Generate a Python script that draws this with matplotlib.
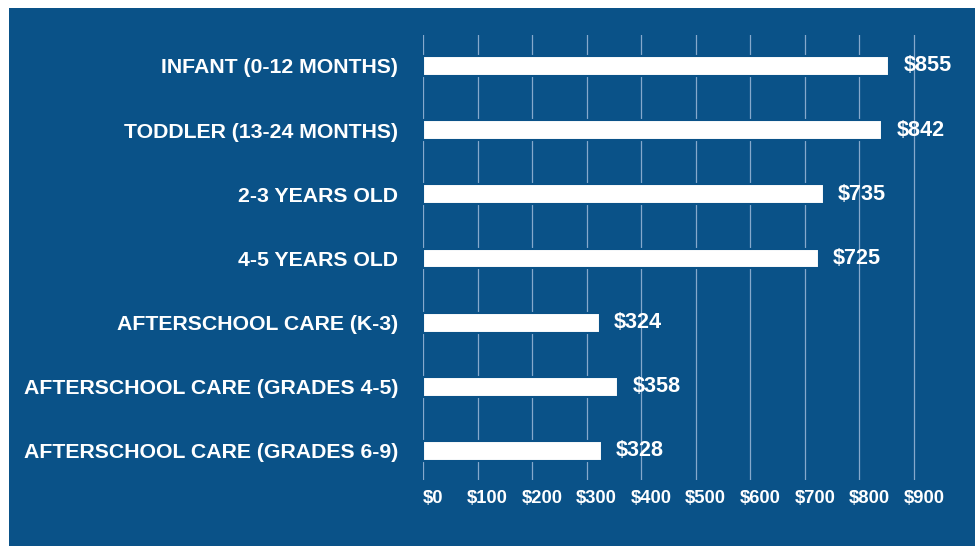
import matplotlib
matplotlib.use("Agg")
import matplotlib.pyplot as plt
from matplotlib.patches import Rectangle
from matplotlib.transforms import offset_copy

# ------------------------------------------------------------------ #
#  Dados                                                               #
# ------------------------------------------------------------------ #
categorias = [
    "INFANT (0-12 MONTHS)",
    "TODDLER (13-24 MONTHS)",
    "2-3 YEARS OLD",
    "4-5 YEARS OLD",
    "AFTERSCHOOL CARE (K-3)",
    "AFTERSCHOOL CARE (GRADES 4-5)",
    "AFTERSCHOOL CARE (GRADES 6-9)",
]
valores = [855, 842, 735, 725, 324, 358, 328]
ticks_x = [0, 100, 200, 300, 400, 500, 600, 700, 800, 900]
ticks_lbl = [f"${t}" for t in ticks_x]

AZUL = "#0a5288"
GRADE = "#86a9cc"
FONTE = ["Liberation Sans", "DejaVu Sans"]

W, H = 979, 546
fig = plt.figure(figsize=(W / 100, H / 100), dpi=100)
fig.patch.set_facecolor("white")

# fundo azul com margem branca
fundo = Rectangle((9 / W, 0), 966 / W, 538 / H, transform=fig.transFigure,
                  facecolor=AZUL, edgecolor="none", zorder=-10)
fig.add_artist(fundo)

xmax = 950
px_por_unid = 491 / 900
ax = fig.add_axes([423 / W, 66 / H, xmax * px_por_unid / W, 445 / H])
ax.set_facecolor("none")
ax.set_zorder(5)

y = list(range(len(categorias)))
ax.barh(y, valores, height=0.31, color="white", edgecolor=AZUL,
        linewidth=1.5, zorder=3)

ax.set_xlim(0, xmax)
ax.set_ylim(6.452, -0.483)

ax.set_xticks(ticks_x)
ax.set_xticklabels(ticks_lbl, family=FONTE, fontweight="bold",
                   fontsize=13.2, color="white")
ax.set_yticks(y)
ax.set_yticklabels(categorias, family=FONTE, fontweight="bold",
                   fontsize=15.3, color="white")
ax.tick_params(axis="x", length=0, pad=7)
ax.tick_params(axis="y", length=0, pad=18)

# deslocamento leve dos rótulos do eixo x para a direita
for lbl in ax.get_xticklabels():
    lbl.set_transform(offset_copy(lbl.get_transform(), fig=fig, x=10, y=0, units="dots"))

ax.grid(axis="x", color=GRADE, linewidth=0.9, zorder=1)
ax.set_axisbelow(True)
for s in ax.spines.values():
    s.set_visible(False)

# rótulos de valor
for yi, v in zip(y, valores):
    ax.annotate(f"${v}", xy=(v, yi), xytext=(14, 0), textcoords="offset pixels",
                ha="left", va="center", family=FONTE, fontweight="bold",
                fontsize=15.6, color="white")

fig.savefig("out.png", dpi=100, facecolor=fig.get_facecolor())
plt.close(fig)
